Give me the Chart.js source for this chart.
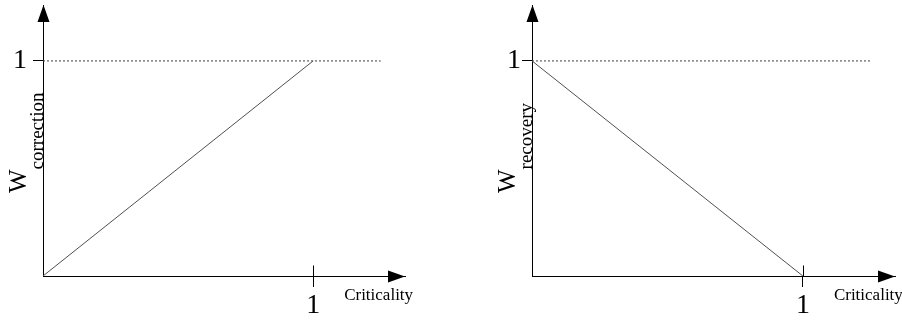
<!DOCTYPE html>
<html>
<head>
<meta charset="utf-8">
<script src="https://cdn.jsdelivr.net/npm/chart.js@4/dist/chart.umd.min.js"></script>
<style>
  html, body { margin: 0; padding: 0; background: #fff; }
  #wrap { position: relative; width: 902px; height: 320px; }
  #wrap canvas { position: absolute; left: 0; top: 0; }
</style>
</head>
<body>
<div id="wrap">
  <canvas id="correction" width="902" height="320"></canvas>
  <canvas id="recovery" width="902" height="320"></canvas>
</div>
<script>
// criticality on x, weight on y
const criticality = [0, 1];
const wCorrection = [0, 1];
const wRecovery = [1, 0];
const refCriticality = [0, 1.25];
const refLevel = [1, 1];
const xTicks = [1];
const yTicks = [1];

const SERIF = "'Liberation Serif', 'DejaVu Serif', serif";

function pairs(xs, ys) {
    return xs.map((x, i) => ({ x: x, y: ys[i] }));
}

// arrows, extra tick stubs and the axis titles (W with subscript)
const axisDecor = {
    id: 'axisDecor',
    afterDraw(chart, args, opts) {
        const ctx = chart.ctx;
        const xs = chart.scales.x, ys = chart.scales.y;
        const x0 = Math.round(xs.getPixelForValue(0)) + 0.5;
        const y0 = Math.round(ys.getPixelForValue(0)) + 0.5;
        const top = chart.chartArea.top;
        const right = chart.chartArea.right;
        ctx.save();
        ctx.fillStyle = '#000';
        ctx.strokeStyle = '#000';
        ctx.lineWidth = 1;

        // arrow heads
        ctx.beginPath();
        ctx.moveTo(x0, top);
        ctx.lineTo(x0 - 6, top + 17);
        ctx.lineTo(x0 + 6, top + 17);
        ctx.closePath();
        ctx.fill();
        ctx.beginPath();
        ctx.moveTo(right, y0);
        ctx.lineTo(right - 17, y0 - 6);
        ctx.lineTo(right - 17, y0 + 6);
        ctx.closePath();
        ctx.fill();

        // upper half of the x tick
        xTicks.forEach(v => {
            const px = Math.round(xs.getPixelForValue(v)) + 0.5;
            ctx.beginPath();
            ctx.moveTo(px, y0 - 11);
            ctx.lineTo(px, y0);
            ctx.stroke();
        });

        // x title
        ctx.font = '17px ' + SERIF;
        ctx.textAlign = 'left';
        ctx.textBaseline = 'alphabetic';
        ctx.fillText('Criticality', xs.getPixelForValue(1) + 31, y0 + 23);

        // y title, rotated
        ctx.translate(x0 - 18, 193);
        ctx.rotate(-Math.PI / 2);
        ctx.font = '25px ' + SERIF;
        ctx.fillText('W', 0, 0);
        const w = ctx.measureText('W').width;
        ctx.font = '19px ' + SERIF;
        ctx.fillText(opts.sub, w, 17);
        ctx.restore();
    }
};

function makeChart(id, values, sub, padLeft, padRight, yLabelPad) {
    return new Chart(document.getElementById(id), {
        type: 'line',
        data: {
            datasets: [
                {
                    data: pairs(criticality, values),
                    borderColor: '#505050',
                    borderWidth: 1,
                    pointRadius: 0,
                    tension: 0
                },
                {
                    data: pairs(refCriticality, refLevel),
                    borderColor: '#404040',
                    borderWidth: 1,
                    borderDash: [2, 2],
                    pointRadius: 0
                }
            ]
        },
        options: {
            responsive: false,
            animation: false,
            devicePixelRatio: 1,
            layout: { padding: { left: padLeft, right: padRight, top: 5, bottom: 0 } },
            plugins: {
                legend: { display: false },
                tooltip: { enabled: false },
                axisDecor: { sub: sub }
            },
            scales: {
                x: {
                    type: 'linear',
                    min: 0,
                    max: 1.34,
                    afterBuildTicks: s => { s.ticks = xTicks.map(v => ({ value: v })); },
                    afterFit: s => { s.height = 44; s.paddingLeft = 0; s.paddingRight = 0; },
                    ticks: {
                        color: '#000',
                        padding: 2,
                        maxRotation: 0,
                        font: { family: SERIF, size: 28 },
                        callback: v => String(v)
                    },
                    grid: { drawOnChartArea: false, drawTicks: true, tickLength: 11, color: '#000' },
                    border: { display: true, color: '#000', width: 1 }
                },
                y: {
                    type: 'linear',
                    min: 0,
                    max: 1.26,
                    afterBuildTicks: s => { s.ticks = yTicks.map(v => ({ value: v })); },
                    afterFit: s => { s.width = 43; s.paddingTop = 0; s.paddingBottom = 0; },
                    ticks: {
                        color: '#000',
                        padding: yLabelPad,
                        font: { family: SERIF, size: 28 },
                        callback: v => String(v)
                    },
                    grid: { drawOnChartArea: false, drawTicks: true, tickLength: 10, color: '#000' },
                    border: { display: true, color: '#000', width: 1 }
                }
            }
        },
        plugins: [axisDecor]
    });
}

makeChart('correction', wCorrection, 'correction', 0, 497, 6);
makeChart('recovery', wRecovery, 'recovery', 489, 7, 1);
</script>
</body>
</html>
